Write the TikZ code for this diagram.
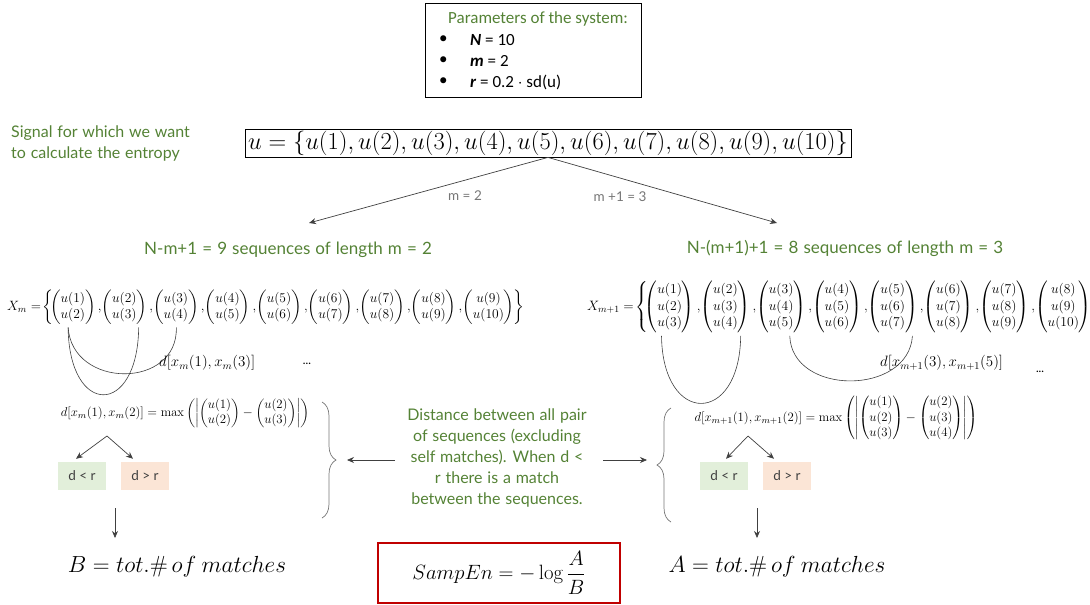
\RequirePackage{fix-cm}
\documentclass[tikz,border=0pt]{standalone}
\usepackage{amsmath}
\usepackage[no-math]{fontspec}
\setmainfont{Carlito}
\newfontfamily\gfont{Lato}
\usetikzlibrary{arrows.meta,decorations.pathreplacing,calc,positioning}

\definecolor{sgreen}{RGB}{84,130,53}
\definecolor{sred}{RGB}{192,0,0}
\definecolor{boxg}{RGB}{226,239,218}
\definecolor{boxp}{RGB}{251,229,214}
\definecolor{lgrey}{RGB}{118,118,118}
\definecolor{dgrey}{RGB}{64,64,64}

\newcommand\vtwo[2]{\begin{pmatrix}#1\\#2\end{pmatrix}}
\newcommand\vthree[3]{\begin{pmatrix}#1\\#2\\#3\end{pmatrix}}

\tikzset{
  gtext/.style={text=sgreen, inner sep=0pt,
    font={\gfont\fontsize{16}{21}\selectfont\spaceskip=0.3em plus 0.1em minus 0.05em}},
  ghead/.style={gtext,
    font={\gfont\fontsize{17}{21}\selectfont\spaceskip=0.3em plus 0.1em minus 0.05em}},
  ptext/.style={font=\fontsize{17}{20}\selectfont, inner sep=0pt, anchor=west},
  small/.style={text=lgrey, font=\gfont\fontsize{13.5}{15}\selectfont, inner sep=0pt},
  arr/.style={draw=dgrey, line width=0.7pt, -{Stealth[length=7pt,width=6pt]}},
  arc/.style={draw=dgrey, line width=0.6pt},
  vec/.style={inner sep=0pt, outer sep=0pt, font=\fontsize{13.5}{16.5}\selectfont},
  vecb/.style={inner sep=0pt, outer sep=0pt, font=\fontsize{13.6}{16.5}\selectfont},
  dist/.style={inner sep=0pt, font=\fontsize{12.8}{15.5}\selectfont},
  lbl/.style={inner sep=0pt, anchor=west, font=\fontsize{15}{17}\selectfont},
  cmp/.style={minimum width=48pt, minimum height=28pt, inner sep=0pt, text=dgrey,
    font=\gfont\fontsize{13.5}{15}\selectfont},
  brc/.style={draw=lgrey, line width=0.7pt, decorate,
    decoration={brace, amplitude=14pt, aspect=0.5}},
  big/.style={font=\fontsize{23.3}{26}\selectfont, inner sep=0pt},
}

\begin{document}
\begin{tikzpicture}[x=1pt, y=-1pt]
\useasboundingbox (0,0) rectangle (1090,605);

% parameters of the system
\node[draw, line width=0.8pt, minimum width=216pt, minimum height=94pt, inner sep=0pt] (params) at (533,50) {};
\node[ptext, text=sgreen] (ptitle) at (448,19) {Parameters of the system:};
\node[ptext] (b1) at (439,40) {\textbullet};
\node[ptext] (b2) at (439,61) {\textbullet};
\node[ptext] (b3) at (439,82) {\textbullet};
\node[ptext] (p1) at (470,40) {\textbf{\textit{N}} = 10};
\node[ptext] (p2) at (470,61) {\textbf{\textit{m}} = 2};
\node[ptext] (p3) at (470,82) {\textbf{\textit{r}} = 0.2 $\cdot$ sd(u)};

% the signal
\node[gtext, align=left, anchor=west] (sig) at (11,143) {Signal for which we want\\to calculate the entropy};
\node[draw, line width=0.8pt, minimum width=606pt, minimum height=28pt, inner sep=0pt] (u) at (548,143)
  {\fontsize{24.5}{25}\selectfont $u=\{u(1),u(2),u(3),u(4),u(5),u(6),u(7),u(8),u(9),u(10)\}$};

\coordinate (ltip) at (309,223);
\coordinate (rtip) at (777,223);
\draw[arr] (u.south) -- (ltip);
\draw[arr] (u.south) -- (rtip);
\node[small] (lm) at (465,196) {m = 2};
\node[small] (lm1) at (620,197) {m +1 = 3};

\node[ghead] (hl) at (288,250) {N-m+1 = 9 sequences of length m = 2};
\node[ghead] (hr) at (845,248) {N-(m+1)+1 = 8 sequences of length m = 3};

% sequences of length m
\node[vec, anchor=west] (m0) at (7,307) {$X_m=\!\left\{\vphantom{\vtwo{u}{u}}\right.\!\!$};
\foreach \i in {1,...,8}{
  \pgfmathtruncatemacro\p{\i-1}
  \pgfmathtruncatemacro\n{\i+1}
  \node[vec, right=0pt of m\p] (m\i) {$\vtwo{u(\i)}{u(\n)}{,}$};
}
\node[vec, right=0pt of m8] (m9) {$\vtwo{u(9)}{u(10)}$};
\node[vec, right=0pt of m9] (mend) {$\!\left.\vphantom{\vtwo{u}{u}}\right\}$};

% sequences of length m+1
\node[vecb, anchor=west] (n0) at (587,307) {$X_{m+1}=\!\left\{\vphantom{\vthree{u}{u}{u}}\right.\!\!$};
\foreach \i in {1,...,7}{
  \pgfmathtruncatemacro\p{\i-1}
  \pgfmathtruncatemacro\n{\i+1}
  \pgfmathtruncatemacro\q{\i+2}
  \node[vecb, right=0pt of n\p] (n\i) {$\vthree{u(\i)}{u(\n)}{u(\q)}{,}$};
}
\node[vecb, right=0pt of n7] (n8) {$\vthree{u(8)}{u(9)}{u(10)}$};
\node[vecb, right=0pt of n8] (nend) {$\!\left.\vphantom{\vthree{u}{u}{u}}\right\}$};

% pairs compared, length m
\coordinate (a1) at ($(m1.south west)!0.35!(m1.south east)+(0,3)$);
\coordinate (a2) at ($(m2.south west)!0.72!(m2.south east)+(0,3)$);
\coordinate (a3) at ($(m3.south west)!0.45!(m3.south east)+(0,3)$);
\draw[arc] (a1) .. controls +(1,90) and +(-1,90) .. (a2);
\draw[arc] (a1) .. controls +(4,62) and +(2,62) .. (a3);
\node[lbl] (d13) at (159,363) {$d[x_m(1),x_m(3)]$};
\node[inner sep=0pt] (dotsl) at (307,364) {\textbf{...}};

% pairs compared, length m+1
\coordinate (c1) at ($(n1.south west)!0.3!(n1.south east)+(0,3)$);
\coordinate (c2) at ($(n2.south west)!0.72!(n2.south east)+(0,3)$);
\coordinate (c3) at ($(n3.south west)!0.6!(n3.south east)+(0,3)$);
\coordinate (c5) at ($(n5.south west)!0.8!(n5.south east)+(0,3)$);
\draw[arc] (c1) .. controls +(1,90) and +(-1,90) .. (c2);
\draw[arc] (c3) .. controls +(2,60) and +(-4,60) .. (c5);
\node[lbl] (d35) at (880,363) {$d[x_{m+1}(3),x_{m+1}(5)]$};
\node[inner sep=0pt] (dotsr) at (1040,372) {\textbf{...}};

% distances
\node[dist] (dl) at (185,413)
  {$d[x_m(1),x_m(2)]=\max\left(\left|\vtwo{u(1)}{u(2)}-\vtwo{u(2)}{u(3)}\right|\right)$};
\node[dist] (dr) at (836,418)
  {$d[x_{m+1}(1),x_{m+1}(2)]=\max\left(\left|\vthree{u(1)}{u(2)}{u(3)}-\vthree{u(2)}{u(3)}{u(4)}\right|\right)$};

% comparisons with r, length m
\node[cmp, fill=boxg] (ltl) at (82,476) {d < r};
\node[cmp, fill=boxp] (gtl) at (145,476) {d > r};
\coordinate (apl) at (107,436);
\draw[arr] (apl) -- ($(ltl.north)+(-6,-3)$);
\draw[arr] (apl) -- ($(gtl.north)+(-12,-3)$);

% comparisons with r, length m+1
\node[cmp, fill=boxg] (ltr) at (724,476) {d < r};
\node[cmp, fill=boxp] (gtr) at (787,476) {d > r};
\coordinate (apr) at (748,436);
\draw[arr] (apr) -- ($(ltr.north)+(2,-3)$);
\draw[arr] (apr) -- ($(gtr.north)+(-13,-3)$);

% braces and explanation
\draw[brc] (322,402) -- (322,518);
\draw[brc] (671,522) -- (671,408);
\node[gtext, align=center] (expl) at (497,458) {Distance between all pair\\of sequences (excluding\\self matches). When d <\\r there is a match\\between the sequences.};
\coordinate (bl) at (395,460);
\coordinate (bla) at (347,460);
\coordinate (br) at (603,460);
\coordinate (bra) at (647,460);
\draw[arr] (bl) -- (bla);
\draw[arr] (br) -- (bra);

% totals
\node[big] (B) at (177,567) {$B=tot.\#\,of\ matches$};
\node[big] (A) at (777,567) {$A=tot.\#\,of\ matches$};
\coordinate (vl) at (115,508);
\coordinate (vle) at (115,538);
\coordinate (vr) at (757,508);
\coordinate (vre) at (757,538);
\draw[arr] (vl) -- (vle);
\draw[arr] (vr) -- (vre);

\node[draw=sred, line width=1.6pt, minimum width=242pt, minimum height=60pt, inner sep=0pt] (se) at (499,573)
  {\fontsize{20.7}{23}\selectfont $SampEn=-\log\dfrac{A}{B}$};
\end{tikzpicture}
\end{document}
